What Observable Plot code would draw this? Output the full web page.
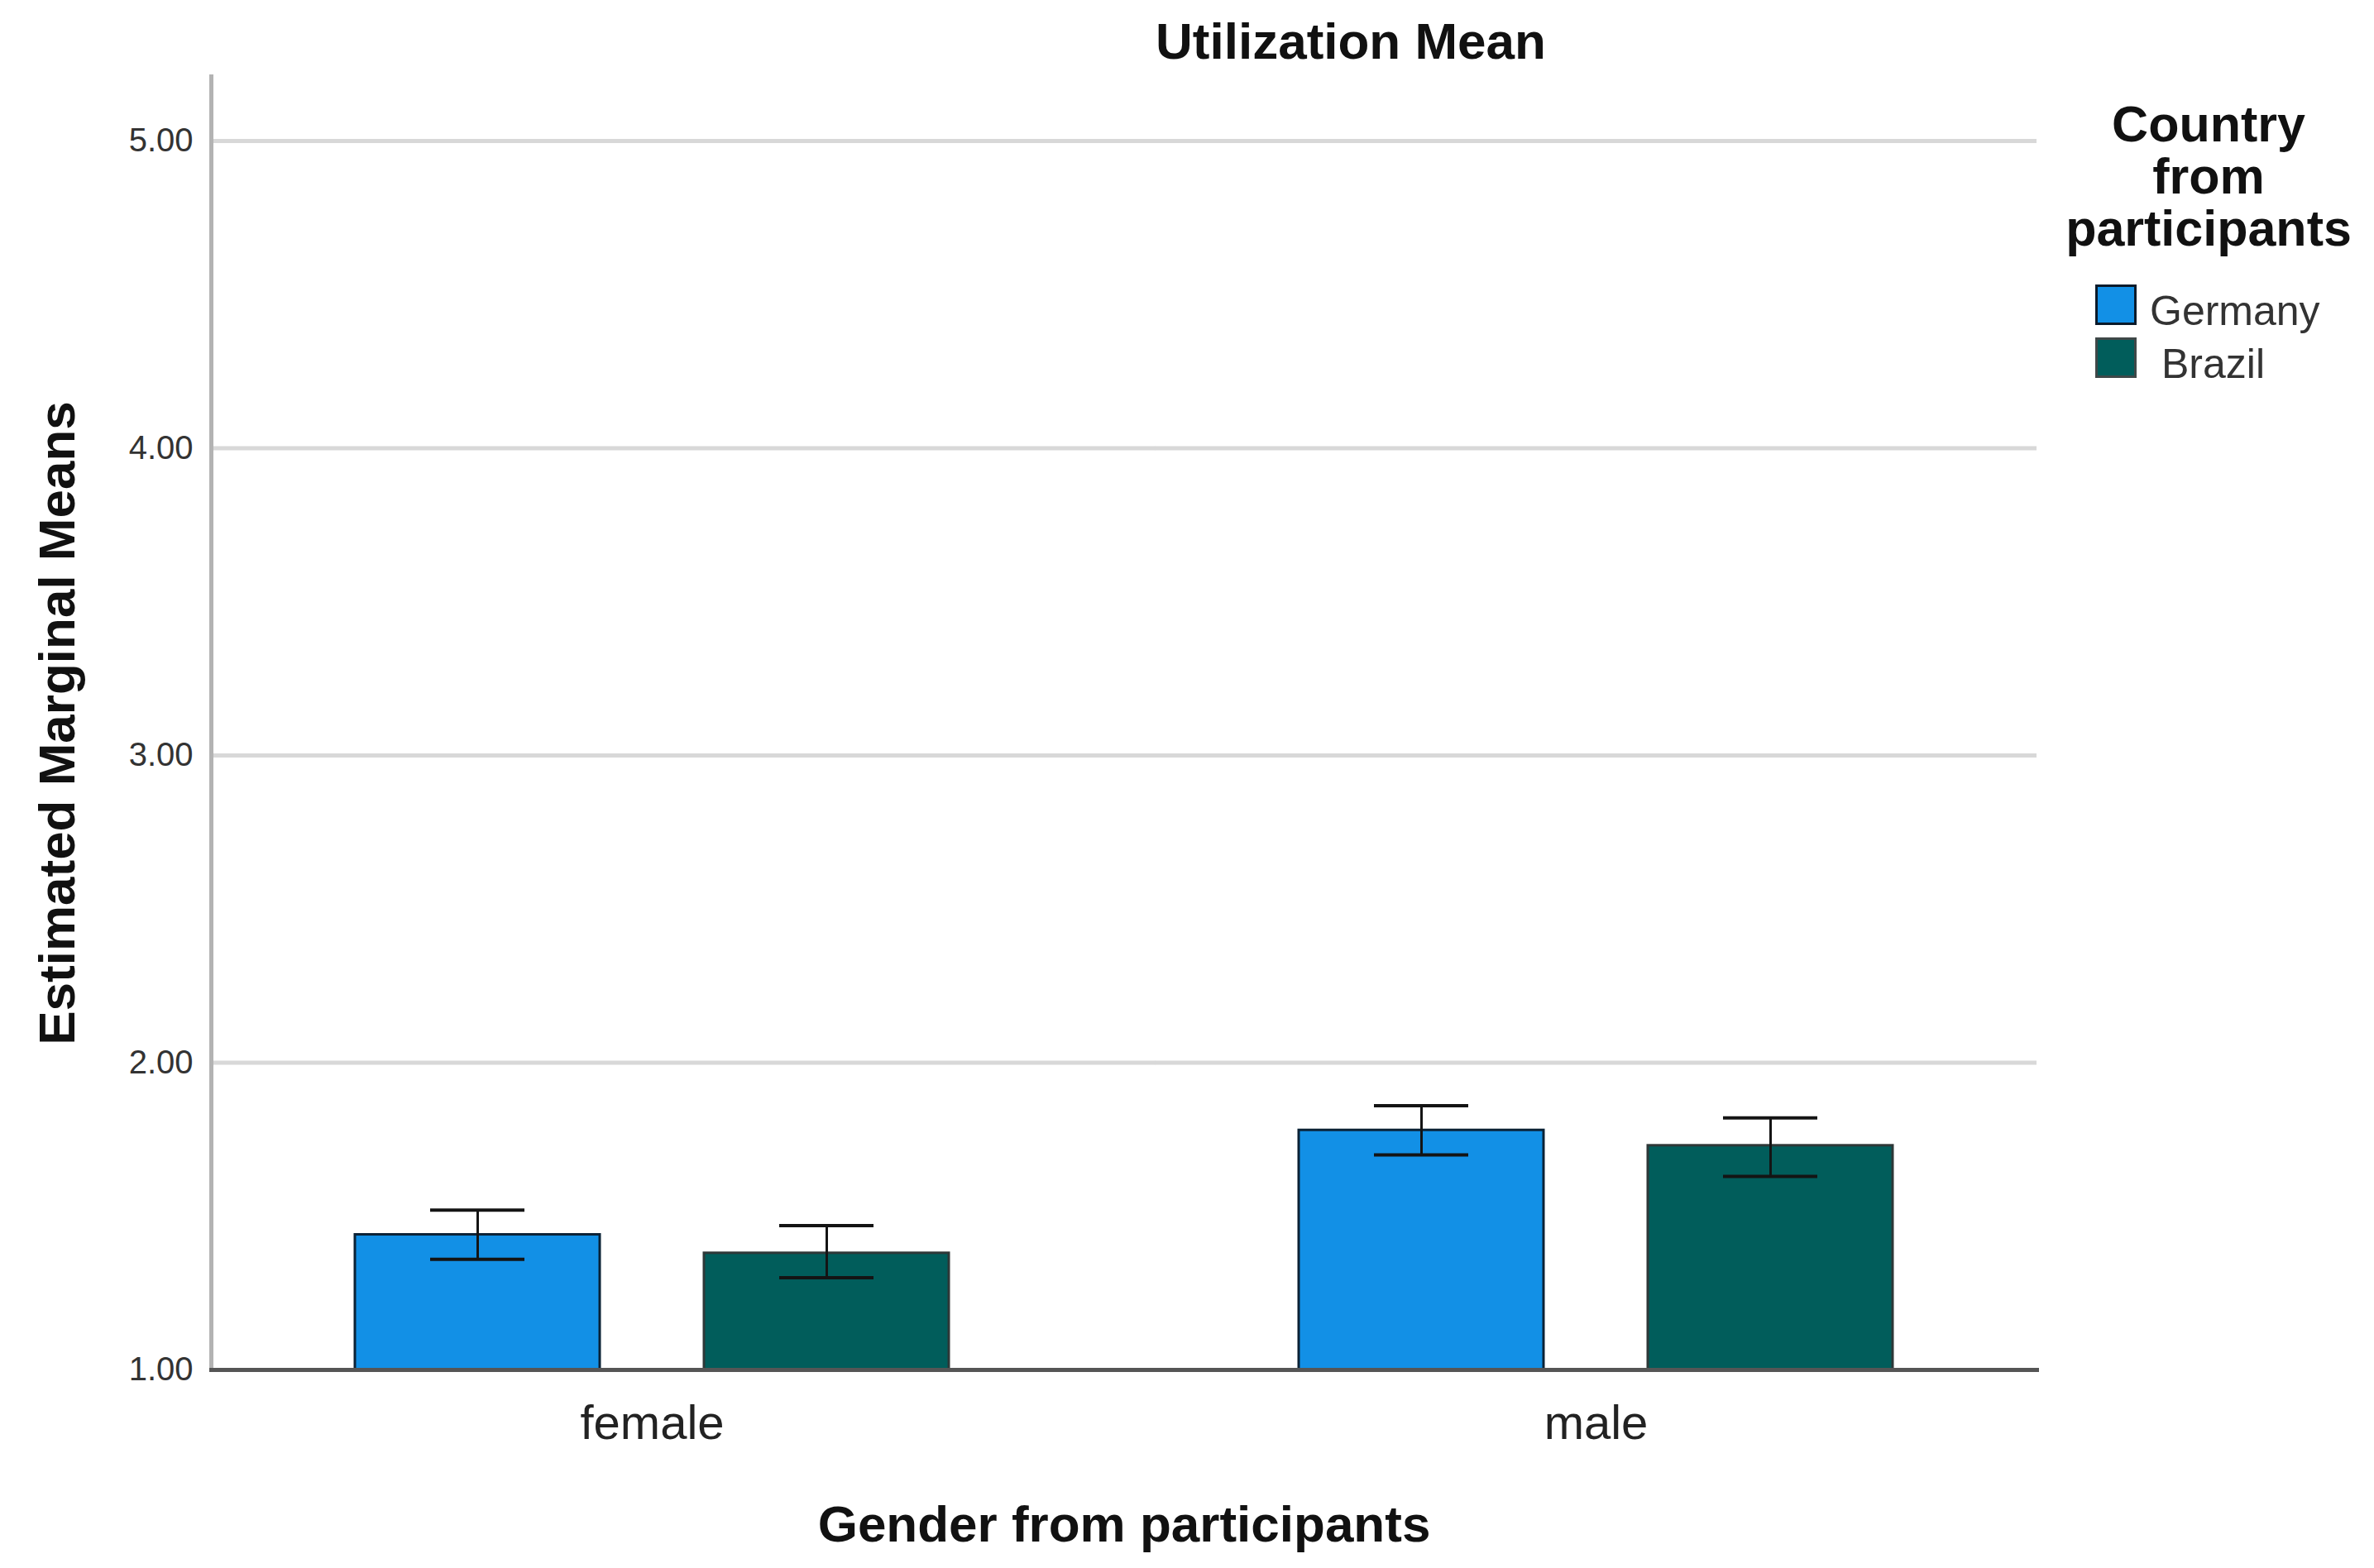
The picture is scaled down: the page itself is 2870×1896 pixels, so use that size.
<!DOCTYPE html>
<html>
<head>
<meta charset="utf-8">
<script src="https://cdn.jsdelivr.net/npm/d3@7"></script>
<script src="https://cdn.jsdelivr.net/npm/@observablehq/plot@0.6"></script>
<style>
  html, body { margin: 0; padding: 0; background: #fff; }
  #wrap { position: relative; width: 2870px; height: 1896px; font-family: "Liberation Sans", Arial, sans-serif; color: #111; }
  #chart svg { display: block; }
  g[aria-label="y-axis label"], g[aria-label="y-axis label"] text,
  g[aria-label="fx-axis label"], g[aria-label="fx-axis label"] text { font-size: 62px; font-weight: bold; fill: #111; }
  g[aria-label="y-axis tick label"], g[aria-label="y-axis tick label"] text { font-size: 40px; fill: #333; }
  g[aria-label="fx-axis tick label"], g[aria-label="fx-axis tick label"] text { font-size: 58px; fill: #222; }
  #title { position: absolute; left: 1233px; width: 800px; top: 19px; text-align: center; font-size: 62px; line-height: 62px; font-weight: bold; }
  #legendTitle { position: absolute; left: 2470px; width: 400px; top: 119px; text-align: center; font-size: 61px; line-height: 63px; font-weight: bold; }
  .sw { position: absolute; left: 2533px; width: 50px; height: 49px; box-sizing: border-box; border: 3px solid #000; }
  .lt { position: absolute; font-size: 50px; line-height: 64px; height: 64px; color: #333; white-space: nowrap; }
</style>
</head>
<body>
<div id="wrap">
  <div id="chart"></div>
  <div id="title">Utilization Mean</div>
  <div id="legend"></div>
</div>
<script>
// ---- data ----
const genders = ["female", "male"];
const countries = ["Germany", "Brazil"];
const germanyMean  = [1.44, 1.78];
const germanyLower = [1.36, 1.70];
const germanyUpper = [1.52, 1.86];
const brazilMean   = [1.38, 1.73];
const brazilLower  = [1.30, 1.63];
const brazilUpper  = [1.47, 1.82];
const yTicks = [1, 2, 3, 4, 5];
const fillColors   = ["#1290e6", "#015d5b"];
const strokeColors = ["#0b2236", "#2e3838"];
const legendTitle = ["Country", "from", "participants"];

// ---- table built from the arrays ----
const rows = [];
genders.forEach((g, i) => {
  rows.push({gender: g, country: countries[0], mean: germanyMean[i], lower: germanyLower[i], upper: germanyUpper[i]});
  rows.push({gender: g, country: countries[1], mean: brazilMean[i], lower: brazilLower[i], upper: brazilUpper[i]});
});
const gridRows = genders.flatMap(g => yTicks.slice(1).map(v => ({gender: g, value: v})));
const fillOf = d => fillColors[countries.indexOf(d.country)];
const strokeOf = d => strokeColors[countries.indexOf(d.country)];

// layout
const W = 2870, H = 1896, mL = 254, mR = 408, mT = 92, mB = 240;
const fxPadInner = 0.066;
const facetGap = (W - mL - mR) / (genders.length - fxPadInner) * fxPadInner;

const chart = Plot.plot({
  width: W,
  height: H,
  marginTop: mT,
  marginBottom: mB,
  marginLeft: mL,
  marginRight: mR,
  style: {fontFamily: "'Liberation Sans', Arial, sans-serif", background: "#fff", overflow: "visible"},
  fx: {domain: genders, paddingInner: fxPadInner, paddingOuter: 0},
  x: {domain: countries, paddingInner: 0.2987, paddingOuter: 0.411, axis: null},
  y: {domain: [1, 5.21]},
  marks: [
    // gridlines: first facet extends across the gap between facets
    Plot.ruleY(gridRows.filter(d => d.gender === genders[0]), {fx: "gender", y: "value", stroke: "#d8d8d8", strokeWidth: 5, insetRight: -facetGap}),
    Plot.ruleY(gridRows.filter(d => d.gender !== genders[0]), {fx: "gender", y: "value", stroke: "#d8d8d8", strokeWidth: 5}),
    Plot.frame({anchor: "left", stroke: "#b3b3b3", strokeWidth: 5, facet: "super"}),
    Plot.barY(rows, {fx: "gender", x: "country", y1: 1, y2: "mean", fill: fillOf, stroke: strokeOf, strokeWidth: 3}),
    Plot.frame({anchor: "bottom", stroke: "#555", strokeWidth: 5, facet: "super"}),
    Plot.ruleX(rows, {fx: "gender", x: "country", y1: "lower", y2: "upper", stroke: "#141414", strokeWidth: 3}),
    Plot.tickY(rows, {fx: "gender", x: "country", y: "lower", stroke: "#141414", strokeWidth: 4, insetLeft: 91, insetRight: 91}),
    Plot.tickY(rows, {fx: "gender", x: "country", y: "upper", stroke: "#141414", strokeWidth: 4, insetLeft: 91, insetRight: 91}),
    Plot.axisY({ticks: yTicks, tickFormat: d3.format(".2f"), tickSize: 0, tickPadding: 22, fontSize: 40,
                label: "Estimated Marginal Means", labelAnchor: "center", labelArrow: false, labelOffset: 210}),
    Plot.axisFx({anchor: "bottom", tickSize: 0, tickPadding: 42, fontSize: 58,
                 label: "Gender from participants", labelAnchor: "center", labelArrow: false, labelOffset: 207})
  ]
});
document.getElementById("chart").appendChild(chart);

// ---- legend ----
const legend = document.getElementById("legend");
const lt = document.createElement("div");
lt.id = "legendTitle";
lt.innerHTML = legendTitle.join("<br>");
legend.appendChild(lt);
countries.forEach((c, i) => {
  const top = 344 + i * 64;
  const sw = document.createElement("div");
  sw.className = "sw";
  sw.style.top = top + "px";
  sw.style.background = fillColors[i];
  sw.style.borderColor = i === 0 ? "#0b1a2a" : "#3f4848";
  legend.appendChild(sw);
  const t = document.createElement("div");
  t.className = "lt";
  t.style.top = top + "px";
  t.style.left = (i === 0 ? 2599 : 2613) + "px";
  t.textContent = c;
  legend.appendChild(t);
});
</script>
</body>
</html>
